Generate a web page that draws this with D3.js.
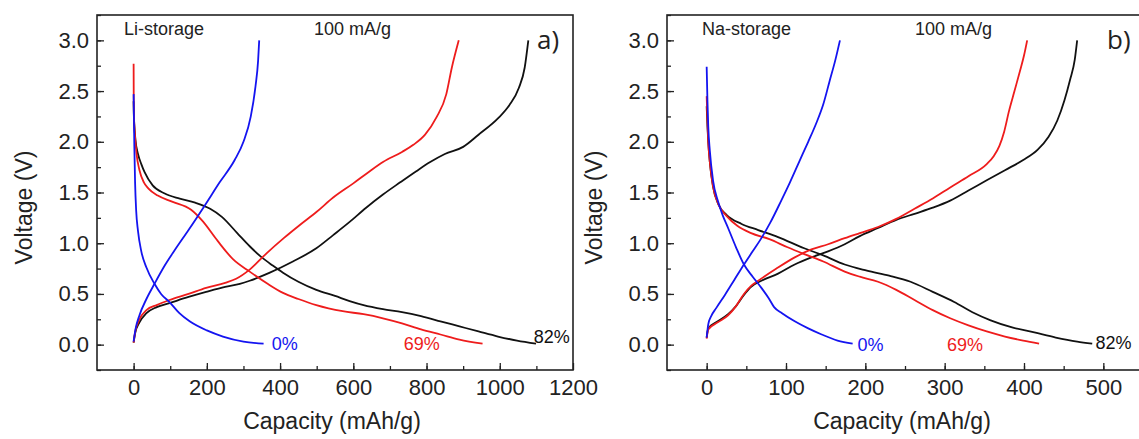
<!DOCTYPE html>
<html>
<head>
<meta charset="utf-8">
<script src="https://cdn.jsdelivr.net/npm/d3@7"></script>
<style>
  body { margin: 0; background: #fff; }
  svg { display: block; font-family: "Liberation Sans", Arial, sans-serif; }
</style>
</head>
<body>
<svg id="chart" width="1139" height="439"></svg>
<script>
// ---- Li-storage (panel a), [capacity mAh/g, voltage V]
const liBlueDis = [[0,2.47],[1,2.2],[2,1.95],[4,1.6],[7,1.32],[12,1.12],[21,0.92],[35,0.76],[57,0.60],[75,0.50],[98,0.42],[125,0.31],[153,0.23],[200,0.14],[244,0.08],[300,0.03],[355,0.01]];
const liBlueCha = [[0,0.03],[5,0.15],[16,0.29],[35,0.45],[57,0.60],[85,0.78],[112,0.93],[150,1.13],[194,1.37],[235,1.6],[276,1.82],[300,2.0],[320,2.25],[333,2.55],[340,2.80],[343,3.0]];
const liRedDis = [[0,2.77],[0.3,2.45],[1,2.25],[3,2.1],[8,1.88],[16,1.72],[28,1.6],[40,1.54],[66,1.47],[105,1.41],[157,1.33],[188,1.22],[230,1.02],[272,0.84],[317,0.72],[366,0.60],[408,0.51],[450,0.45],[499,0.39],[571,0.33],[628,0.30],[681,0.26],[733,0.21],[785,0.15],[838,0.10],[890,0.05],[953,0.01]];
const liRedCha = [[0,0.02],[4,0.12],[16,0.25],[35,0.34],[63,0.39],[98,0.44],[150,0.50],[198,0.56],[250,0.61],[280,0.65],[317,0.74],[363,0.90],[410,1.05],[454,1.18],[500,1.31],[545,1.45],[600,1.59],[645,1.71],[681,1.80],[733,1.90],[764,1.97],[796,2.07],[827,2.24],[854,2.47],[869,2.73],[888,3.0]];
const liBlackDis = [[0,2.4],[0.5,2.28],[2,2.16],[5,2.02],[12,1.88],[21,1.78],[30,1.70],[52,1.57],[85,1.49],[126,1.44],[168,1.40],[209,1.34],[241,1.26],[283,1.10],[317,0.97],[350,0.86],[380,0.78],[408,0.71],[450,0.62],[499,0.54],[550,0.48],[590,0.43],[628,0.39],[681,0.35],[733,0.32],[785,0.28],[838,0.23],[890,0.18],[942,0.13],[995,0.08],[1047,0.04],[1099,0.01]];
const liBlackCha = [[0,0.02],[4,0.11],[16,0.22],[35,0.31],[63,0.37],[98,0.41],[150,0.47],[198,0.52],[250,0.57],[290,0.60],[317,0.63],[372,0.71],[435,0.82],[499,0.95],[545,1.08],[590,1.21],[635,1.35],[681,1.48],[728,1.60],[772,1.71],[810,1.80],[850,1.88],[900,1.95],[942,2.07],[995,2.23],[1026,2.36],[1052,2.53],[1068,2.73],[1078,3.0]];

// ---- Na-storage (panel b)
const naBlueDis = [[0,2.74],[1,2.4],[2,2.15],[4,1.91],[8,1.62],[14,1.42],[20,1.28],[27,1.15],[37,0.96],[47,0.79],[58,0.67],[69,0.56],[78,0.46],[85,0.37],[95,0.31],[111,0.23],[128,0.16],[145,0.10],[165,0.04],[184,0.01]];
const naBlueCha = [[0,0.07],[2,0.20],[5,0.27],[12,0.36],[23,0.49],[35,0.64],[47,0.79],[58,0.92],[69,1.05],[80,1.20],[94,1.42],[105,1.60],[117,1.81],[128,2.0],[138,2.18],[147,2.37],[155,2.6],[162,2.8],[168,3.0]];
const naRedDis = [[0,2.45],[1,2.2],[2,2.0],[4,1.8],[8,1.56],[15,1.38],[25,1.27],[39,1.17],[56,1.10],[79,1.04],[102,0.96],[124,0.89],[147,0.82],[174,0.72],[193,0.67],[216,0.62],[239,0.54],[262,0.44],[285,0.34],[307,0.26],[330,0.19],[353,0.13],[376,0.08],[399,0.04],[419,0.01]];
const naRedCha = [[0,0.06],[2,0.15],[14,0.22],[27,0.29],[37,0.38],[47,0.50],[56,0.58],[65,0.63],[88,0.75],[111,0.86],[132,0.94],[153,0.99],[174,1.05],[193,1.10],[216,1.16],[239,1.24],[262,1.34],[285,1.44],[307,1.55],[330,1.66],[353,1.78],[362,1.86],[369,1.96],[375,2.1],[381,2.3],[388,2.5],[395,2.7],[400,2.85],[404,3.0]];
const naBlackDis = [[0,2.35],[1,2.15],[2,2.0],[4,1.8],[8,1.56],[15,1.38],[25,1.28],[44,1.19],[65,1.13],[90,1.06],[123,0.95],[147,0.88],[174,0.79],[202,0.73],[230,0.68],[257,0.62],[285,0.52],[312,0.42],[335,0.32],[358,0.24],[385,0.17],[413,0.12],[440,0.07],[467,0.03],[486,0.01]];
const naBlackCha = [[0,0.07],[2,0.16],[14,0.23],[27,0.30],[37,0.38],[47,0.49],[56,0.57],[69,0.63],[90,0.70],[111,0.79],[132,0.86],[153,0.92],[174,0.99],[193,1.07],[216,1.15],[239,1.23],[262,1.29],[285,1.35],[307,1.42],[330,1.52],[353,1.62],[376,1.72],[399,1.82],[417,1.92],[431,2.05],[442,2.21],[451,2.41],[458,2.61],[464,2.81],[467,3.0]];

const yTicks = [0, 0.5, 1.0, 1.5, 2.0, 2.5, 3.0];
const liXTicks = [0, 200, 400, 600, 800, 1000, 1200];
const naXTicks = [0, 100, 200, 300, 400, 500];
const retention = ["0%", "69%", "82%"];
// where each retention label starts [capacity, voltage]
const liLabelPos = [[377, -0.05], [738, -0.05], [1093, 0.02]];
const naLabelPos = [[190, -0.06], [303, -0.06], [490, -0.04]];

const colors = ["#1414f0", "#ee1c1c", "#111111"];

const svg = d3.select("#chart");
const height = 355;
const width = 476;

const draw = cfg => {
  const g = svg.append("g")
    .attr("transform", "translate(" + cfg.left + ",15)");

  const x = d3.scaleLinear().domain(cfg.xDomain).range([0, width]);
  const y = d3.scaleLinear().domain([-0.25, 3.25]).range([height, 0]);

  // minor ticks
  g.append("g")
    .attr("transform", "translate(0," + height + ")")
    .call(d3.axisBottom(x).tickValues(d3.range(cfg.xDomain[0] + cfg.minor, cfg.xDomain[1], cfg.minor)).tickSizeInner(-4).tickSizeOuter(0).tickFormat(""))
    .call(a => a.select(".domain").remove());
  g.append("g")
    .call(d3.axisLeft(y).tickValues(d3.range(-0.25, 3.26, 0.25)).tickSizeInner(-4).tickSizeOuter(0).tickFormat(""))
    .call(a => a.select(".domain").remove());

  // major ticks
  g.append("g")
    .attr("transform", "translate(0," + height + ")")
    .call(d3.axisBottom(x).tickValues(cfg.xTicks).tickSizeInner(-7).tickSizeOuter(0).tickPadding(9).tickFormat(d3.format("d")))
    .call(a => a.select(".domain").remove())
    .call(a => a.selectAll("text").attr("font-size", 22).attr("fill", "#222").attr("font-family", "Liberation Sans, Arial, sans-serif"));
  g.append("g")
    .call(d3.axisLeft(y).tickValues(yTicks).tickSizeInner(-7).tickSizeOuter(0).tickPadding(8).tickFormat(d3.format(".1f")))
    .call(a => a.select(".domain").remove())
    .call(a => a.selectAll("text").attr("font-size", 22).attr("fill", "#222").attr("font-family", "Liberation Sans, Arial, sans-serif"));

  g.selectAll(".tick line").attr("stroke", "#222").attr("stroke-width", 1.3);

  // frame
  g.append("rect")
    .attr("width", width)
    .attr("height", height)
    .attr("fill", "none")
    .attr("stroke", "#222")
    .attr("stroke-width", 1.6);

  const line = d3.line()
    .x(d => x(d[0]))
    .y(d => y(d[1]))
    .curve(d3.curveMonotoneX);

  // black, red, then blue on top
  [2, 1, 0].forEach(i => {
    cfg.series[i].forEach(s => {
      g.append("path")
        .datum(s)
        .attr("fill", "none")
        .attr("stroke", colors[i])
        .attr("stroke-width", 1.8)
        .attr("d", line);
    });
  });

  cfg.labelPos.forEach((p, i) => {
    g.append("text")
      .attr("x", x(p[0]))
      .attr("y", y(p[1]))
      .attr("font-size", 18)
      .attr("fill", colors[i])
      .text(retention[i]);
  });

  g.append("text")
    .attr("x", cfg.nameX)
    .attr("y", 20)
    .attr("font-size", 18)
    .attr("fill", "#222")
    .text(cfg.name);
  g.append("text")
    .attr("x", cfg.rateX)
    .attr("y", 20)
    .attr("font-size", 18)
    .attr("fill", "#222")
    .text("100 mA/g");
  g.append("text")
    .attr("x", cfg.tagX)
    .attr("y", 34)
    .attr("font-size", 26)
    .attr("font-family", "Open Sans, sans-serif")
    .attr("fill", "#222")
    .text(cfg.tag);

  // axis titles
  g.append("text")
    .attr("x", width / 2 - 3)
    .attr("y", height + 59)
    .attr("text-anchor", "middle")
    .attr("font-size", 23)
    .attr("fill", "#222")
    .text("Capacity (mAh/g)");
  g.append("text")
    .attr("transform", "translate(" + cfg.yTitleX + "," + (height / 2 + 15) + ") rotate(-90)")
    .attr("text-anchor", "middle")
    .attr("font-size", 23)
    .attr("fill", "#222")
    .text("Voltage (V)");
};

draw({
  left: 97,
  xDomain: [-100, 1200],
  xTicks: liXTicks,
  minor: 100,
  series: [[liBlueDis, liBlueCha], [liRedDis, liRedCha], [liBlackDis, liBlackCha]],
  labelPos: liLabelPos,
  name: "Li-storage",
  nameX: 27,
  rateX: 217,
  tag: "a)",
  tagX: 440,
  yTitleX: -65
});

draw({
  left: 667,
  xDomain: [-50, 550],
  xTicks: naXTicks,
  minor: 50,
  series: [[naBlueDis, naBlueCha], [naRedDis, naRedCha], [naBlackDis, naBlackCha]],
  labelPos: naLabelPos,
  name: "Na-storage",
  nameX: 35,
  rateX: 248,
  tag: "b)",
  tagX: 440,
  yTitleX: -65
});
</script>
</body>
</html>
